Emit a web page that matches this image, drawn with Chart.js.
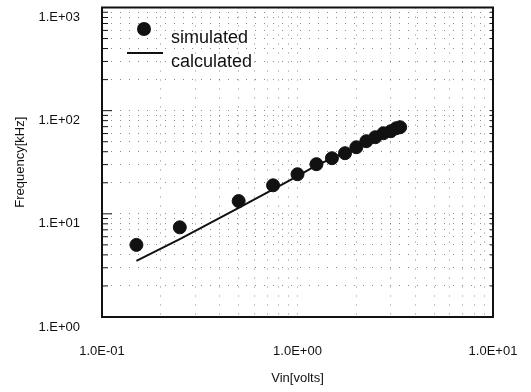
<!DOCTYPE html>
<html>
<head>
<meta charset="utf-8">
<script src="https://cdn.jsdelivr.net/npm/chart.js@4.4.1/dist/chart.umd.min.js"></script>
<style>
  html, body { margin: 0; padding: 0; background: #fff; }
  #wrap { width: 531px; height: 392px; }
</style>
</head>
<body>
<div id="wrap"><canvas id="freqChart" width="531" height="392"></canvas></div>
<script>
/* ── data ── */
const vinSim   = [0.15, 0.25, 0.5, 0.75, 1.0, 1.25, 1.5, 1.75, 2.0, 2.25, 2.5, 2.75, 3.0, 3.2, 3.35];
const freqSim  = [5.0, 7.4, 13.3, 18.9, 24.2, 30.3, 34.6, 38.7, 44.2, 50.6, 55.3, 60.4, 63.2, 67.6, 69.1];
const vinCalc  = [0.15, 0.25, 0.5, 0.75, 1.0, 1.25, 1.5, 1.75, 2.0, 2.25, 2.5, 2.75, 3.0, 3.2, 3.35];
const freqCalc = [3.5, 5.7, 11.4, 17.3, 23.2, 29.5, 34.5, 39.5, 45.0, 50.5, 55.5, 60.5, 64.0, 67.5, 70.0];

const xTickValues = [0.1, 1, 10];
const xTickLabels = ['1.0E-01', '1.0E+00', '1.0E+01'];
const yTickValues = [1, 10, 100, 1000];
const yTickLabels = ['1.E+00', '1.E+01', '1.E+02', '1.E+03'];

const seriesNames = ['simulated', 'calculated'];

const FONT = "'Liberation Sans', Arial, sans-serif";
const INK = '#111';

// all log ticks (1..9 per decade) between the given powers of ten
function logTicks(vals) {
  const out = [];
  for (let i = 0; i < vals.length - 1; i++) {
    for (let k = 1; k < 10; k++) out.push({ value: vals[i] * k });
  }
  out.push({ value: vals[vals.length - 1] });
  return out;
}

function tickLabel(values, labels, v) {
  const i = values.findIndex(t => Math.abs(t - v) / t < 1e-6);
  return i >= 0 ? labels[i] : '';
}

// frame, inward axis ticks and the legend box
const framePlugin = {
  id: 'frame',
  afterDraw(chart) {
    const { ctx, chartArea: a, scales } = chart;
    ctx.save();
    ctx.setLineDash([]);
    ctx.strokeStyle = INK;
    ctx.lineWidth = 2;
    ctx.strokeRect(a.left, a.top, a.right - a.left, a.bottom - a.top);

    ctx.lineWidth = 1;
    scales.y.ticks.forEach(t => {
      const y = scales.y.getPixelForValue(t.value);
      const major = yTickValues.includes(t.value);
      ctx.beginPath();
      ctx.moveTo(a.left, y); ctx.lineTo(a.left + (major ? 10 : 6), y);
      ctx.moveTo(a.right, y); ctx.lineTo(a.right - 3, y);
      ctx.stroke();
    });

    // legend
    ctx.fillStyle = INK;
    ctx.beginPath();
    ctx.arc(144, 29, 7, 0, Math.PI * 2);
    ctx.fill();
    ctx.lineWidth = 2;
    ctx.beginPath();
    ctx.moveTo(127, 53); ctx.lineTo(163, 53);
    ctx.stroke();
    ctx.font = '18px ' + FONT;
    ctx.textBaseline = 'middle';
    ctx.textAlign = 'left';
    ctx.fillText(seriesNames[0], 171, 38);
    ctx.fillText(seriesNames[1], 171, 62);
    ctx.restore();
  }
};

const gridStyle = {
  color: 'rgba(0,0,0,0.45)',
  lineWidth: 1,
  drawTicks: false
};

new Chart(document.getElementById('freqChart'), {
  type: 'scatter',
  data: {
    datasets: [
      {
        label: seriesNames[0],
        data: vinSim.map((v, i) => ({ x: v, y: freqSim[i] })),
        backgroundColor: INK,
        borderColor: INK,
        pointRadius: 6.5,
        pointHoverRadius: 6.5,
        order: 1
      },
      {
        label: seriesNames[1],
        data: vinCalc.map((v, i) => ({ x: v, y: freqCalc[i] })),
        showLine: true,
        borderColor: INK,
        borderWidth: 2,
        pointRadius: 0,
        fill: false,
        order: 2
      }
    ]
  },
  options: {
    responsive: false,
    animation: false,
    layout: { padding: { top: 7, right: 38, left: 0, bottom: 0 } },
    plugins: {
      legend: { display: false },
      tooltip: { enabled: false }
    },
    scales: {
      x: {
        type: 'logarithmic',
        min: 0.1,
        max: 10,
        afterBuildTicks: s => { s.ticks = logTicks(xTickValues); },
        afterFit: s => { s.height = 75; s.paddingLeft = 0; s.paddingRight = 0; },
        border: { display: false, dash: [1, 8] },
        grid: gridStyle,
        ticks: {
          autoSkip: false,
          maxRotation: 0,
          padding: 27,
          color: INK,
          font: { family: FONT, size: 13 },
          callback: v => tickLabel(xTickValues, xTickLabels, v)
        },
        title: {
          display: true,
          text: 'Vin[volts]',
          color: INK,
          font: { family: FONT, size: 13 },
          padding: { top: 0, bottom: 6 }
        }
      },
      y: {
        type: 'logarithmic',
        min: 1,
        max: 1000,
        afterBuildTicks: s => { s.ticks = logTicks(yTickValues); },
        afterFit: s => { s.width = 102; s.paddingTop = 0; s.paddingBottom = 0; },
        border: { display: false, dash: [1, 8] },
        grid: gridStyle,
        ticks: {
          autoSkip: false,
          padding: 22,
          labelOffset: 10,
          color: INK,
          font: { family: FONT, size: 13 },
          callback: v => tickLabel(yTickValues, yTickLabels, v)
        },
        title: {
          display: true,
          text: 'Frequency[kHz]',
          color: INK,
          font: { family: FONT, size: 13 },
          padding: { top: 13, bottom: 0 }
        }
      }
    }
  },
  plugins: [framePlugin]
});
</script>
</body>
</html>
